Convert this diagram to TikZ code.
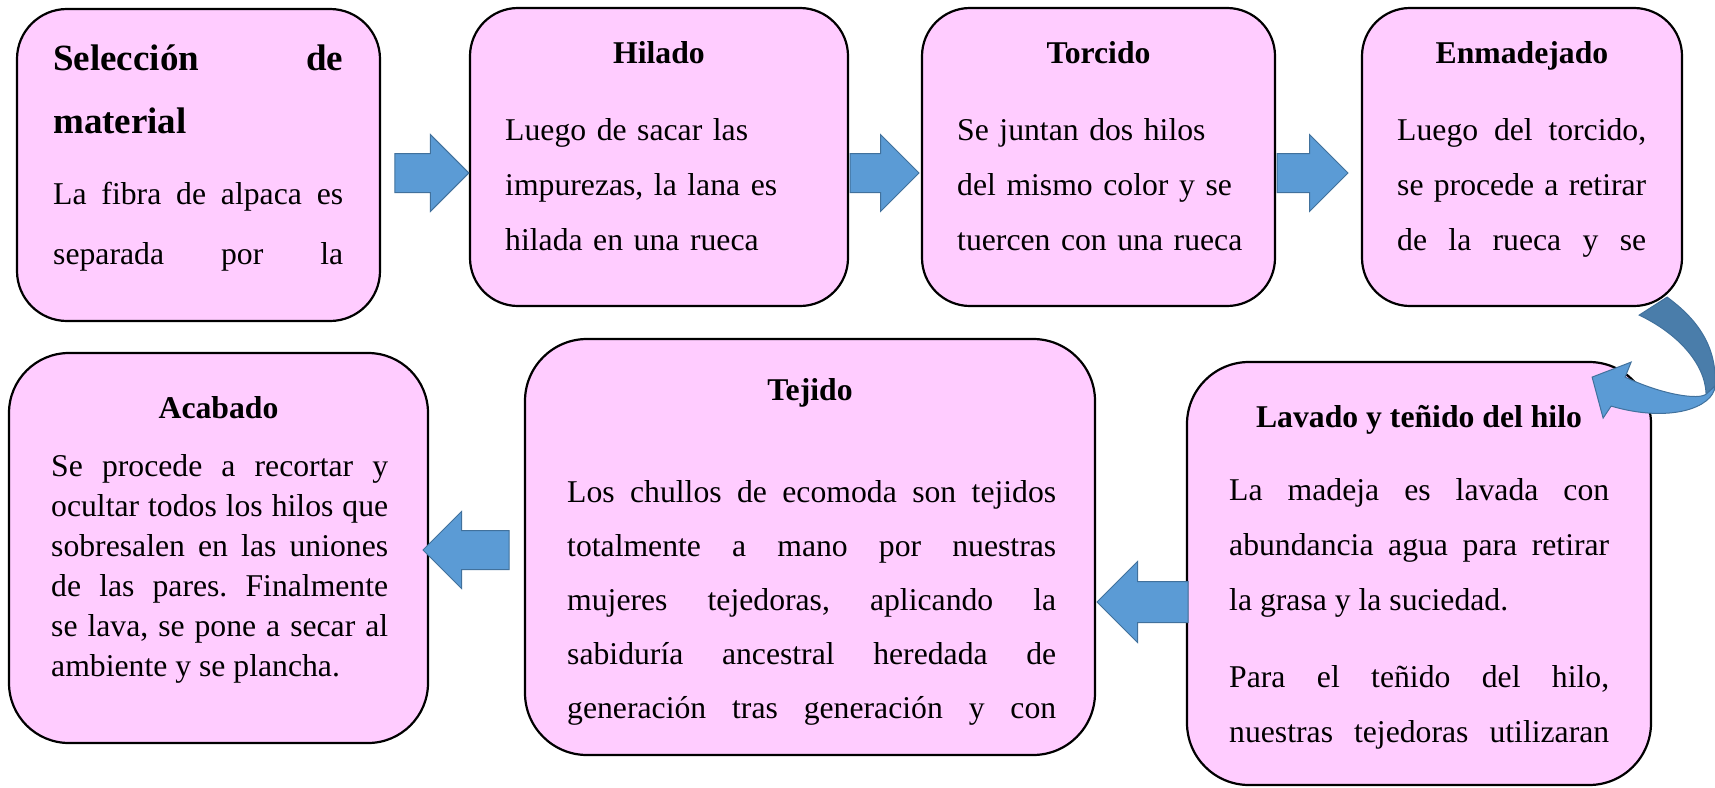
\documentclass[tikz,border=0pt]{standalone}
\usepackage{fontspec}
\setmainfont{Liberation Serif}
\usetikzlibrary{positioning, shapes.arrows}

\definecolor{rosa}{HTML}{FFCCFF}
\definecolor{azul}{HTML}{5B9BD5}
\definecolor{azulborde}{HTML}{41719C}
\definecolor{azuloscuro}{HTML}{4A7DAA}

\begin{document}
\begin{tikzpicture}[x=1pt, y=-1pt,
	caja/.style={rectangle, rounded corners=#1, draw=black, line width=2.2pt, fill=rosa, inner sep=0pt},
	caja/.default=48pt,
	flecha/.style={single arrow, anchor=tip, draw=azulborde, fill=azul, line width=1pt, inner xsep=0pt, inner ysep=19pt, outer sep=0pt, single arrow head extend=19pt, single arrow tip angle=90},
	titulo/.style={inner sep=0pt, anchor=base, font=\bfseries\fontsize{31.7}{38}\selectfont},
	texto/.style={inner sep=0pt, anchor=base west, align=justify, font=\fontsize{31.7}{55}\selectfont, execute at begin node={\frenchspacing\hyphenpenalty=10000 \tolerance=10000 \hbadness=10000}},
	]

	\useasboundingbox (0,0) rectangle (1715,787);


	\node[caja=50pt, minimum width=363pt, minimum height=312pt] (seleccion) at (198.5,165) {};
	\node[caja, minimum width=378pt, minimum height=298pt] (hilado) at (659,157) {};
	\node[caja, minimum width=353pt, minimum height=298pt] (torcido) at (1098.5,157) {};
	\node[caja, minimum width=320pt, minimum height=298pt] (enmadejado) at (1522,157) {};

	\node[caja=60pt, minimum width=419pt, minimum height=390pt] (acabado) at (218.5,548) {};
	\node[caja=62pt, minimum width=570pt, minimum height=416pt] (tejido) at (810,547) {};
	\node[caja=62pt, minimum width=464pt, minimum height=423pt] (lavado) at (1419,573.5) {};


	\node[texto, text width=290pt, font=\bfseries\fontsize{37}{63}\selectfont] (t-seleccion) at (53,70) {Selección\hfill de\\material};
	\node[texto, text width=290pt, font=\fontsize{31.7}{60}\selectfont] (d-seleccion) at (53,204) {La fibra de alpaca es\linebreak separada por la\linebreak};

	\node[titulo] (t-hilado) at (hilado.center |- 0,63) {Hilado};
	\node[texto, align=left, text width=330pt] (d-hilado) at (505,140) {Luego de sacar las\\impurezas, la lana es\\hilada en una rueca};

	\node[titulo] (t-torcido) at (torcido.center |- 0,63) {Torcido};
	\node[texto, align=left, text width=310pt] (d-torcido) at (957,140) {Se juntan dos hilos\\del mismo color y se\\tuercen con una rueca};

	\node[titulo] (t-enmadejado) at (enmadejado.center |- 0,63) {Enmadejado};
	\node[texto, text width=249pt] (d-enmadejado) at (1397,140) {Luego del torcido,\linebreak se procede a retirar\linebreak de la rueca y se\linebreak};

	\node[titulo] (t-acabado) at (acabado.center |- 0,418) {Acabado};
	\node[texto, text width=337pt, font=\fontsize{31.7}{40}\selectfont] (d-acabado) at (51,476) {Se procede a recortar y\linebreak ocultar todos los hilos que\linebreak sobresalen en las uniones\linebreak de las pares. Finalmente\linebreak se lava, se pone a secar al\linebreak ambiente y se plancha.};

	\node[titulo] (t-tejido) at (tejido.center |- 0,400) {Tejido};
	\node[texto, text width=489pt, font=\fontsize{31.7}{54}\selectfont] (d-tejido) at (567,502) {Los chullos de ecomoda son tejidos\linebreak totalmente a mano por nuestras\linebreak mujeres tejedoras, aplicando la\linebreak sabiduría ancestral heredada de\linebreak generación tras generación y con\linebreak};

	\node[titulo] (t-lavado) at (lavado.center |- 0,427) {Lavado y teñido del hilo};
	\node[texto, text width=380pt] (d-lavado) at (1229,500) {La madeja es lavada con\linebreak abundancia agua para retirar\linebreak la grasa y la suciedad.\par\vspace{22pt}Para el teñido del hilo,\linebreak nuestras tejedoras utilizaran\linebreak};


	\node[flecha, minimum height=74pt] (f1) at (hilado.west |- 0,173) {};
	\node[flecha, minimum height=69pt] (f2) at (919,173) {};
	\node[flecha, minimum height=71pt] (f3) at (1348,173) {};
	\node[flecha, minimum height=91pt, shape border rotate=180, inner ysep=20pt, single arrow head extend=20pt] (f4) at (1097,602) {};
	\node[flecha, minimum height=86pt, shape border rotate=180] (f5) at (423,550) {};


	\begin{scope}[shift={(enmadejado.south east)}]
	\filldraw[fill=azuloscuro, draw=azulborde, line width=1pt] (-44,8) -- (-16,-10) .. controls (14,12) and (34,39) .. (32,79) -- (23,87) .. controls (22,56) and (-6,26) .. (-44,8) -- cycle;
	\filldraw[fill=azul, draw=azulborde, line width=1pt] (32,79) .. controls (30,101) and (-14,116) .. (-72,99) -- (-80,111) -- (-91,70) -- (-52,55) -- (-58,70) .. controls (-20,88) and (16,93) .. (23,87) -- cycle;
	\end{scope}

\end{tikzpicture}
\end{document}
